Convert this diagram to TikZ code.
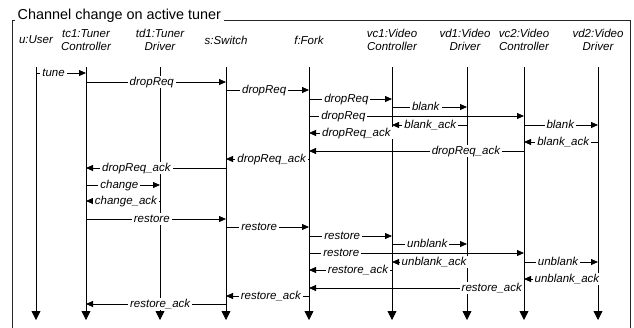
\documentclass[tikz,border=0pt]{standalone}
\usepackage{fontspec}
\setmainfont{Liberation Sans}
\usetikzlibrary{arrows.meta}
\newcommand{\seqmsg}[5]{\draw[msg] (#1 |- 0,#3) -- (#2 |- 0,#3) node[lbl,pos=#4] {#5};}

\begin{document}
\begin{tikzpicture}[
  x=1pt,y=-1pt,
  head/.style={align=center,inner sep=1pt,font=\itshape\fontsize{11.5}{13}\selectfont},
  lbl/.style={fill=white,inner xsep=2pt,inner ysep=0.3pt,text height=8.4pt,text depth=2.4pt,
              font=\itshape\fontsize{11.5}{13}\selectfont},
  msg/.style={-{Triangle[length=7pt,width=6pt]},draw=black,line width=0.8pt},
  life/.style={-{Triangle[length=9pt,width=9pt]},draw=black,line width=0.8pt},
  frame/.style={draw=black!85,line width=0.8pt}
]
\useasboundingbox (0,0) rectangle (634,327);
\draw[frame] (12,330) -- (12,20) -- (630,20) -- (630,330);
\node[fill=white,inner xsep=2.5pt,inner ysep=1pt,anchor=base west,font=\fontsize{14.4}{16}\selectfont]
  (title) at (15,19) {Channel change on active tuner};

% lifeline heads
\node[head] (uHd) at (36,40) {u:User};
\node[head] (tc1Hd) at (86,40) {tc1:Tuner\\Controller};
\node[head] (td1Hd) at (160,40) {td1:Tuner\\Driver};
\node[head] (sHd) at (226,40) {s:Switch};
\node[head] (fHd) at (309,40) {f:Fork};
\node[head] (vc1Hd) at (392,40) {vc1:Video\\Controller};
\node[head] (vd1Hd) at (465,40) {vd1:Video\\Driver};
\node[head] (vc2Hd) at (524,40) {vc2:Video\\Controller};
\node[head] (vd2Hd) at (598,40) {vd2:Video\\Driver};

% lifelines
\coordinate (u) at (36,67);    \coordinate (uEnd) at (36,320);
\coordinate (tc1) at (86,67);  \coordinate (tc1End) at (86,320);
\coordinate (td1) at (160,67); \coordinate (td1End) at (160,320);
\coordinate (s) at (226,67);   \coordinate (sEnd) at (226,320);
\coordinate (f) at (309,67);   \coordinate (fEnd) at (309,320);
\coordinate (vc1) at (392,67); \coordinate (vc1End) at (392,320);
\coordinate (vd1) at (467,67); \coordinate (vd1End) at (467,320);
\coordinate (vc2) at (524,67); \coordinate (vc2End) at (524,320);
\coordinate (vd2) at (598,67); \coordinate (vd2End) at (598,320);
\draw[life] (u)--(uEnd); \draw[life] (tc1)--(tc1End); \draw[life] (td1)--(td1End);
\draw[life] (s)--(sEnd); \draw[life] (f)--(fEnd); \draw[life] (vc1)--(vc1End);
\draw[life] (vd1)--(vd1End); \draw[life] (vc2)--(vc2End); \draw[life] (vd2)--(vd2End);

% drop request
\seqmsg{u}{tc1}{73}{0.35}{tune}
\seqmsg{tc1}{s}{82}{0.47}{dropReq}
\seqmsg{s}{f}{90}{0.46}{dropReq}
\seqmsg{f}{vc1}{99}{0.45}{dropReq}
\seqmsg{vc1}{vd1}{107}{0.45}{blank}
\seqmsg{f}{vc2}{116}{0.16}{dropReq}
\seqmsg{vd1}{vc1}{125}{0.49}{blank\_ack}
\seqmsg{vc2}{vd2}{125}{0.49}{blank}
\seqmsg{vc1}{f}{133}{0.43}{dropReq\_ack}
\seqmsg{vd2}{vc2}{142}{0.47}{blank\_ack}
\seqmsg{vc2}{f}{151}{0.27}{dropReq\_ack}
\seqmsg{f}{s}{159}{0.45}{dropReq\_ack}
\seqmsg{s}{tc1}{168}{0.64}{dropReq\_ack}
% change
\seqmsg{tc1}{td1}{185}{0.45}{change}
\seqmsg{td1}{tc1}{201}{0.46}{change\_ack}
% restore
\seqmsg{tc1}{s}{219}{0.47}{restore}
\seqmsg{s}{f}{227}{0.4}{restore}
\seqmsg{f}{vc1}{236}{0.4}{restore}
\seqmsg{vc1}{vd1}{244}{0.47}{unblank}
\seqmsg{f}{vc2}{253}{0.15}{restore}
\seqmsg{vd1}{vc1}{262}{0.44}{unblank\_ack}
\seqmsg{vc2}{vd2}{262}{0.46}{unblank}
\seqmsg{vc1}{f}{270}{0.41}{restore\_ack}
\seqmsg{vd2}{vc2}{279}{0.42}{unblank\_ack}
\seqmsg{vc2}{f}{288}{0.15}{restore\_ack}
\seqmsg{f}{s}{296}{0.46}{restore\_ack}
\seqmsg{s}{tc1}{304}{0.47}{restore\_ack}
\end{tikzpicture}
\end{document}
